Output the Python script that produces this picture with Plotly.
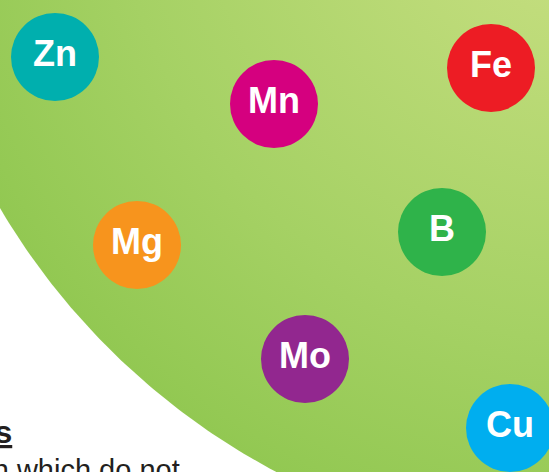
import numpy as np
import plotly.graph_objects as go

# Element bubbles (positions in pixel space of a 549x472 canvas)
elements = ["Zn", "Mn", "Fe", "Mg", "B", "Mo", "Cu"]
elem_x = [55, 274, 491, 137, 442, 305, 510]
elem_y = [57, 104, 68, 245, 232, 359, 428]
elem_colors = ["#00AFAE", "#D5007F", "#ED1C24", "#F7941D", "#2FB34A", "#92278F", "#00AEEF"]

heading_text = "<u>Micronutrients</u>"
body_text = "Required in small amounts, even then which do not"

# Green background disc (centre + radius in pixel units)
disc_cx, disc_cy, disc_r = 606, -150, 704

W, H = 549, 472

theta = np.linspace(0, 2 * np.pi, 721)
disc_x = disc_cx + disc_r * np.cos(theta)
disc_y = disc_cy + disc_r * np.sin(theta)

fig = go.Figure()

fig.add_trace(go.Scatter(
    x=disc_x, y=disc_y, mode="lines", fill="toself",
    line=dict(width=0, color="rgba(0,0,0,0)"),
    fillgradient=dict(
        type="radial",
        colorscale=[[0, "#CFE48E"], [0.25, "#C0DC7B"], [0.7, "#A5D164"], [1, "#92C852"]],
    ),
    hoverinfo="skip", showlegend=False,
))

fig.add_trace(go.Scatter(
    x=elem_x, y=elem_y, mode="markers+text",
    text=elements, textposition="middle center",
    marker=dict(size=88, color=elem_colors, line=dict(width=0)),
    textfont=dict(family="Liberation Sans, Arial, sans-serif", size=36, color="white", weight="bold"),
    hoverinfo="skip", showlegend=False, cliponaxis=False,
))

fig.add_annotation(
    x=14, y=432, xref="x", yref="y", xanchor="right", yanchor="middle",
    text="<b>" + heading_text + "</b>", showarrow=False,
    font=dict(family="Liberation Sans, Arial, sans-serif", size=32, color="#231F20"),
)
fig.add_annotation(
    x=182, y=470, xref="x", yref="y", xanchor="right", yanchor="middle",
    text=body_text, showarrow=False,
    font=dict(family="Liberation Sans, Arial, sans-serif", size=29, color="#231F20"),
)

fig.update_xaxes(range=[0, W], visible=False, fixedrange=True)
fig.update_yaxes(range=[H, 0], visible=False, fixedrange=True)
fig.update_layout(
    width=W, height=H, margin=dict(l=0, r=0, t=0, b=0),
    plot_bgcolor="white", paper_bgcolor="white",
)

fig.write_html(
    "out.html",
    config={"displayModeBar": False},
    post_script="document.body.style.margin='0';document.body.style.overflow='hidden';",
)
